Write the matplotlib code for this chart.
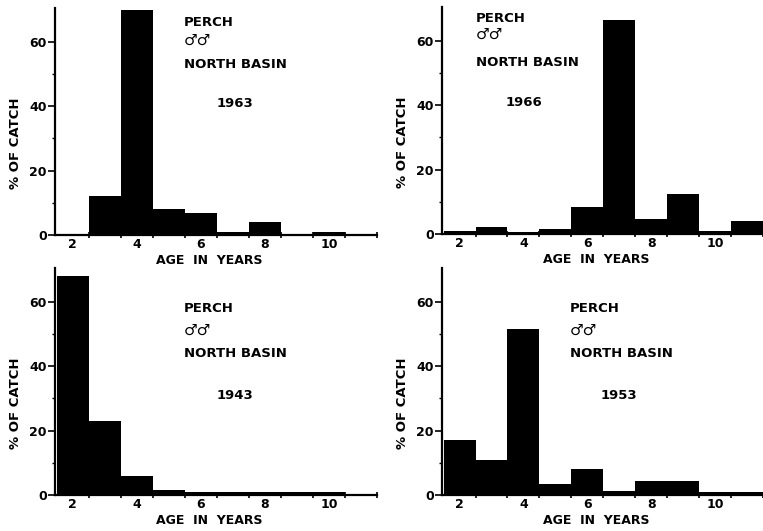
import numpy as np
import matplotlib.pyplot as plt

plt.rcParams['font.family'] = 'DejaVu Sans'
plt.rcParams['font.weight'] = 'bold'
plt.rcParams['axes.labelweight'] = 'bold'

# Edad (años) y porcentaje de la captura
ages = [2, 3, 4, 5, 6, 7, 8, 9, 10, 11]
pct_1963 = [0, 12, 70, 8, 6.7, 1, 3.9, 0, 1, 0.3]
pct_1966 = [1, 2.3, 0.7, 1.5, 8.4, 66.5, 4.6, 12.3, 0.8, 4.1]
pct_1943 = [68, 23, 6, 1.7, 1, 1, 1, 1, 1, 0.3]
pct_1953 = [17, 11, 51.5, 3.5, 8.2, 1.3, 4.3, 4.3, 1, 1]

years = ["1963", "1966", "1943", "1953"]
series = [pct_1963, pct_1966, pct_1943, pct_1953]
bin_edges = [2.5, 3.5, 4.5, 5.5, 6.5, 7.5, 8.5, 9.5, 10.5, 11.5]
age_labels = [2, 4, 6, 8, 10]

fig = plt.figure(figsize=(7.63, 5.31), dpi=100)

# posicion de cada panel [left, bottom, width, height] y limites en x
rects = [[0.0721, 0.5574, 0.422, 0.4275],
         [0.5793, 0.5593, 0.4207, 0.4275],
         [0.0721, 0.0678, 0.422, 0.4275],
         [0.5793, 0.0678, 0.4207, 0.4275]]
xlims = [(1.45, 11.5), (1.45, 11.3), (1.45, 11.5), (1.45, 11.3)]
# texto: x de "PERCH", y de las tres lineas, x e y del año
txt_x = [5.48, 2.5, 5.48, 5.45]
txt_y = [(66, 60.5, 53, 40.7), (67, 62, 53.3, 40.7),
         (58, 51.2, 44, 31), (58, 51, 44, 31)]
year_x = [6.48, 3.45, 6.48, 6.4]
xlab_y = [-0.082, -0.082, -0.085, -0.085]

for i in range(4):
    ax = fig.add_axes(rects[i])
    ax.bar(ages, series[i], width=1.0, color='black', linewidth=0)
    ax.set_xlim(*xlims[i])
    ax.set_ylim(0, 70.5)

    ax.spines['top'].set_visible(False)
    ax.spines['right'].set_visible(False)
    ax.spines['left'].set_linewidth(1.6)
    ax.spines['bottom'].set_linewidth(1.6)

    ax.set_yticks([0, 20, 40, 60])
    ax.set_yticks([10, 30, 50], minor=True)
    ax.tick_params(axis='y', which='major', length=5, width=1.2, labelsize=9, pad=1)
    ax.tick_params(axis='y', which='minor', length=2, width=1)

    ax.set_xticks(bin_edges, labels=[''] * len(bin_edges))
    ax.set_xticks(age_labels, labels=[str(a) for a in age_labels], minor=True)
    ax.tick_params(axis='x', which='major', length=5, width=1.2, direction='inout')
    ax.tick_params(axis='x', which='minor', length=0, labelsize=9, pad=2)

    ax.set_xlabel("AGE  IN  YEARS", fontsize=9)
    ax.xaxis.set_label_coords(0.48, xlab_y[i])
    ax.set_ylabel("% OF CATCH", fontsize=9.5)
    ax.yaxis.set_label_coords(-0.102, 0.405)

    y1, y2, y3, y4 = txt_y[i]
    ax.text(txt_x[i], y1, "PERCH", fontsize=9.5, va='center')
    ax.text(txt_x[i], y2, "\u2642\u2642", fontsize=11, va='center')
    ax.text(txt_x[i], y3, "NORTH BASIN", fontsize=9.5, va='center')
    ax.text(year_x[i], y4, years[i], fontsize=9.5, va='center')

plt.savefig("out.png", dpi=100)
plt.close()
